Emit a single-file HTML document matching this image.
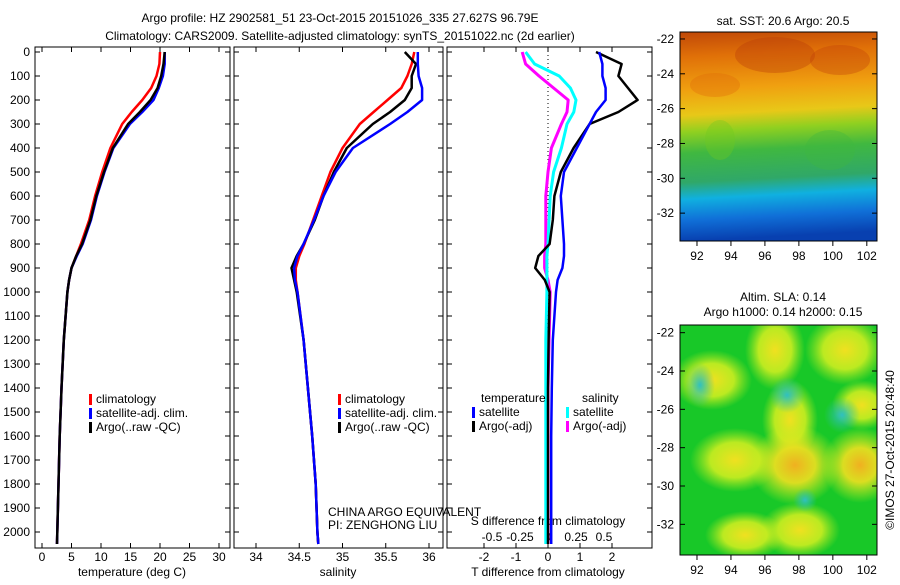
<!DOCTYPE html>
<html><head><meta charset="utf-8"><style>
body{margin:0;background:#fff;width:900px;height:580px;overflow:hidden;font-family:"Liberation Sans",sans-serif}
svg text{font-family:"Liberation Sans",sans-serif;font-size:12px;fill:#000}
</style></head><body>
<svg id="c" width="900" height="580">
<defs>
<linearGradient id="sst" x1="0" y1="0" x2="0.05" y2="1">
<stop offset="0" stop-color="#c04808"/><stop offset="0.12" stop-color="#e07008"/><stop offset="0.28" stop-color="#f0a010"/>
<stop offset="0.4" stop-color="#e8c818"/><stop offset="0.48" stop-color="#90d020"/><stop offset="0.58" stop-color="#40b840"/>
<stop offset="0.72" stop-color="#30a868"/><stop offset="0.8" stop-color="#10b0e0"/><stop offset="0.9" stop-color="#1070d8"/><stop offset="1" stop-color="#0840b0"/>
</linearGradient>
<radialGradient id="yb"><stop offset="0" stop-color="#f0e020"/><stop offset="0.55" stop-color="#d8f020" stop-opacity="0.85"/><stop offset="1" stop-color="#b0e820" stop-opacity="0"/></radialGradient>
<radialGradient id="ob"><stop offset="0" stop-color="#f0b020"/><stop offset="0.45" stop-color="#f0e020" stop-opacity="0.9"/><stop offset="1" stop-color="#d0f020" stop-opacity="0"/></radialGradient>
<radialGradient id="cb"><stop offset="0" stop-color="#30c0c0"/><stop offset="1" stop-color="#30c0a0" stop-opacity="0"/></radialGradient>
<clipPath id="clip1"><rect x="680" y="32" width="197" height="209"/></clipPath>
<clipPath id="clip2"><rect x="680" y="325" width="197" height="230"/></clipPath>
</defs>
<text x="340" y="22" text-anchor="middle" font-size="13">Argo profile: HZ 2902581_51 23-Oct-2015 20151026_335 27.627S 96.79E</text>
<text x="340" y="40" text-anchor="middle" font-size="13">Climatology: CARS2009. Satellite-adjusted climatology: synTS_20151022.nc (2d earlier)</text>
<g id="g"></g>
<g id="m1g" clip-path="url(#clip1)"></g>
<g id="m2g" clip-path="url(#clip2)"></g>
<g id="g2"></g>
</svg>
<script>
const depths=[0,50,100,150,200,250,300,400,500,600,700,800,850,900,950,1000,1200,1400,1600,1800,2000,2050];
const tempClim=[20.0,19.9,19.4,18.5,17.0,15.2,13.6,11.6,10.2,9.0,8.0,6.6,5.8,5.0,4.6,4.3,3.7,3.3,3.0,2.8,2.6,2.55];
const tempSat=[20.8,20.8,20.5,19.8,18.9,17.0,14.9,12.1,10.6,9.3,8.3,6.9,5.9,5.0,4.6,4.3,3.7,3.3,3.0,2.8,2.6,2.55];
const tempArgo=[20.8,20.6,20.2,19.6,18.4,16.6,14.6,12.0,10.5,9.2,8.2,6.8,5.8,5.0,4.6,4.3,3.7,3.3,3.0,2.8,2.6,2.55];
const salClim=[35.83,35.80,35.75,35.68,35.52,35.36,35.20,35.00,34.86,34.76,34.66,34.56,34.50,34.46,34.46,34.48,34.55,34.60,34.65,34.69,34.71,34.72];
const salSat=[35.87,35.87,35.88,35.92,35.92,35.75,35.55,35.12,34.92,34.78,34.67,34.55,34.48,34.44,34.45,34.48,34.55,34.60,34.65,34.69,34.71,34.72];
const salArgo=[35.72,35.85,35.80,35.80,35.72,35.55,35.35,35.05,34.90,34.78,34.68,34.55,34.47,34.41,34.44,34.47,34.55,34.60,34.65,34.69,34.71,34.72];
const dtSat=[1.6,1.7,1.7,1.8,1.8,1.5,1.3,0.9,0.5,0.4,0.45,0.5,0.5,0.45,0.3,0.25,0.15,0.12,0.1,0.1,0.1,0.1];
const dtArgo=[1.5,2.3,2.2,2.5,2.8,2.2,1.3,0.8,0.4,0.2,0.15,0.05,-0.3,-0.4,-0.1,0.05,0.02,0.0,0.0,0.0,0.0,0.0];
const dsSat=[-0.2,-0.12,0.1,0.2,0.25,0.23,0.17,0.12,0.05,0.02,0.01,0.0,-0.01,-0.01,-0.01,-0.01,-0.02,-0.02,-0.02,-0.02,-0.02,-0.02];
const dsArgo=[-0.23,-0.2,-0.08,0.05,0.18,0.17,0.12,0.03,0.0,-0.02,-0.02,-0.02,-0.03,-0.03,0.0,0.02,0.01,0.0,0.0,0.0,0.0,0.0];
const depthTicks=[0,100,200,300,400,500,600,700,800,900,1000,1100,1200,1300,1400,1500,1600,1700,1800,1900,2000];
const tTicks=[0,5,10,15,20,25,30];
const sTicks=[34,34.5,35,35.5,36];
const dtTicks=[-2,-1,0,1,2];
const dsTicks=[-0.5,-0.25,0,0.25,0.5];
const lonTicks=[92,94,96,98,100,102];
const latTicks=[-22,-24,-26,-28,-30,-32];

const NS='http://www.w3.org/2000/svg';
let G=document.getElementById('g');
function el(t,a,txt){const e=document.createElementNS(NS,t);for(const k in a)e.setAttribute(k,a[k]);if(txt!=null)e.textContent=txt;G.appendChild(e);return e;}
const yD=d=>52+d*0.24;
function lin(v0,p0,v1,p1){return v=>p0+(v-v0)*(p1-p0)/(v1-v0);}
const xT=lin(0,42,30,219), xS=lin(34,256,36,429), xDT=lin(0,548,2,612), xDS=lin(0,548,0.5,604);
const panels=[[35,230],[234,443],[447,652]];
panels.forEach((p,i)=>{
  let r=el('rect',{x:p[0],y:47,width:p[1]-p[0],height:501,fill:'none',stroke:'#000','stroke-width':1});
  
  
  depthTicks.forEach(d=>{
    el('line',{x1:p[0],x2:p[0]+5,y1:yD(d),y2:yD(d),stroke:'#000'});
    el('line',{x1:p[1]-5,x2:p[1],y1:yD(d),y2:yD(d),stroke:'#000'});
  });
});
depthTicks.forEach(d=>{
  const t=el('text',{x:30,y:yD(d)+4,'text-anchor':'end'},d);
  
  
});
function xticks(vals,f,y){vals.forEach(v=>{el('line',{x1:f(v),x2:f(v),y1:548,y2:543,stroke:'#000'});el('line',{x1:f(v),x2:f(v),y1:47,y2:52,stroke:'#000'});
  const t=el('text',{x:f(v),y:y,'text-anchor':'middle'},v);
  
  });}
xticks(tTicks,xT,561);xticks(sTicks,xS,561);xticks(dtTicks,xDT,561);
dsTicks.forEach(v=>{const t=el('text',{x:xDS(v),y:541,'text-anchor':'middle'},v);
  
  });
[[132,'temperature (deg C)','x-axis-title-temperature'],[338,'salinity','x-axis-title-salinity'],[548,'T difference from climatology','x-axis-title-t-diff']].forEach(a=>{
  const t=el('text',{x:a[0],y:576,'text-anchor':'middle'},a[1]);
  
  });
let st=el('text',{x:548,y:525,'text-anchor':'middle'},'S difference from climatology');


el('line',{x1:548,x2:548,y1:47,y2:548,stroke:'#000','stroke-dasharray':'1,3'});
function line(vals,fx,col,name,w){
  const pts=vals.map((v,i)=>fx(v).toFixed(1)+','+yD(depths[i]).toFixed(1)).join(' ');
  const p=el('polyline',{points:pts,fill:'none',stroke:col,'stroke-width':w||2.5,'stroke-linejoin':'round'});
  
  
}
line(tempClim,xT,'#f00','temp-climatology-line');line(tempSat,xT,'#00f','temp-satellite-line');line(tempArgo,xT,'#000','temp-argo-line');
line(salClim,xS,'#f00','sal-climatology-line');line(salArgo,xS,'#000','sal-argo-line');line(salSat,xS,'#00f','sal-satellite-line');
line(dsArgo,xDS,'#f0f','s-diff-argo-line',3);line(dsSat,xDS,'#0ff','s-diff-satellite-line',3);
line(dtArgo,xDT,'#000','t-diff-argo-line');line(dtSat,xDT,'#00f','t-diff-satellite-line');
function leg(x,y,col,txt){el('rect',{x:x,y:y-9,width:3,height:11,fill:col});const t=el('text',{x:x+7,y:y},txt);
  
  }
[[89],[338]].forEach(a=>{const x=a[0];leg(x,403,'#f00','climatology');leg(x,417,'#00f','satellite-adj. clim.');leg(x,431,'#000','Argo(..raw -QC)');});
el('text',{x:481,y:402},'temperature');el('text',{x:582,y:402},'salinity');
leg(472,416,'#00f','satellite');leg(472,430,'#000','Argo(-adj)');leg(566,416,'#0ff','satellite');leg(566,430,'#f0f','Argo(-adj)');
el('text',{x:328,y:516},'CHINA ARGO EQUIVALENT');el('text',{x:328,y:529},'PI: ZENGHONG LIU');
// maps
const xLon=lin(91,680,102.6,877);
G=document.getElementById('m1g');
let m1=el('rect',{x:680,y:32,width:197,height:209,fill:'url(#sst)'});


[[775,55,40,18,'#b83808'],[840,60,30,15,'#c04008'],[715,85,25,12,'#e06a08'],[830,150,25,20,'#40b840'],[720,140,15,20,'#70c820']].forEach(b=>el('ellipse',{cx:b[0],cy:b[1],rx:b[2],ry:b[3],fill:b[4],opacity:0.35}));
G=document.getElementById('m2g');
let m2=el('rect',{x:680,y:325,width:197,height:230,fill:'#18c828'});


[[712,380,40,30,'yb'],[775,350,30,40,'yb'],[845,350,40,35,'yb'],[790,420,28,40,'yb'],[735,460,45,32,'yb'],[795,465,45,40,'ob'],[860,465,38,38,'ob'],[800,530,40,28,'yb'],[745,535,40,24,'yb'],[862,405,30,25,'yb']].forEach(b=>el('ellipse',{cx:b[0],cy:b[1],rx:b[2],ry:b[3],fill:'url(#'+b[4]+')'}));
[[787,395,18,18],[700,385,15,22],[842,415,18,18],[805,500,12,12]].forEach(b=>el('ellipse',{cx:b[0],cy:b[1],rx:b[2],ry:b[3],fill:'url(#cb)'}));
G=document.getElementById('g2');
function map(y0,y1,latTop,latBot){
  const yl=lin(latTop,y0,latBot,y1);
  el('rect',{x:680,y:y0,width:197,height:y1-y0,fill:'none',stroke:'#000'});
  latTicks.forEach(v=>{el('line',{x1:680,x2:685,y1:yl(v),y2:yl(v),stroke:'#000'});el('line',{x1:872,x2:877,y1:yl(v),y2:yl(v),stroke:'#000'});
    const t=el('text',{x:674,y:yl(v)+4,'text-anchor':'end'},v);
    
    });
  lonTicks.forEach(v=>{el('line',{x1:xLon(v),x2:xLon(v),y1:y1,y2:y1+5,stroke:'#000'});
    const t=el('text',{x:xLon(v),y:y1+19,'text-anchor':'middle'},v);
    
    });
}
map(32,241,-21.6,-33.6);
map(325,555,-21.6,-33.6);
el('text',{x:783,y:25,'text-anchor':'middle'},'sat. SST: 20.6 Argo: 20.5');
el('text',{x:783,y:301,'text-anchor':'middle'},'Altim. SLA: 0.14');
el('text',{x:783,y:316,'text-anchor':'middle'},'Argo h1000: 0.14 h2000: 0.15');
el('text',{x:894,y:450,'text-anchor':'middle',transform:'rotate(-90 894 450)'},'©IMOS 27-Oct-2015 20:48:40');
</script>
</body></html>
